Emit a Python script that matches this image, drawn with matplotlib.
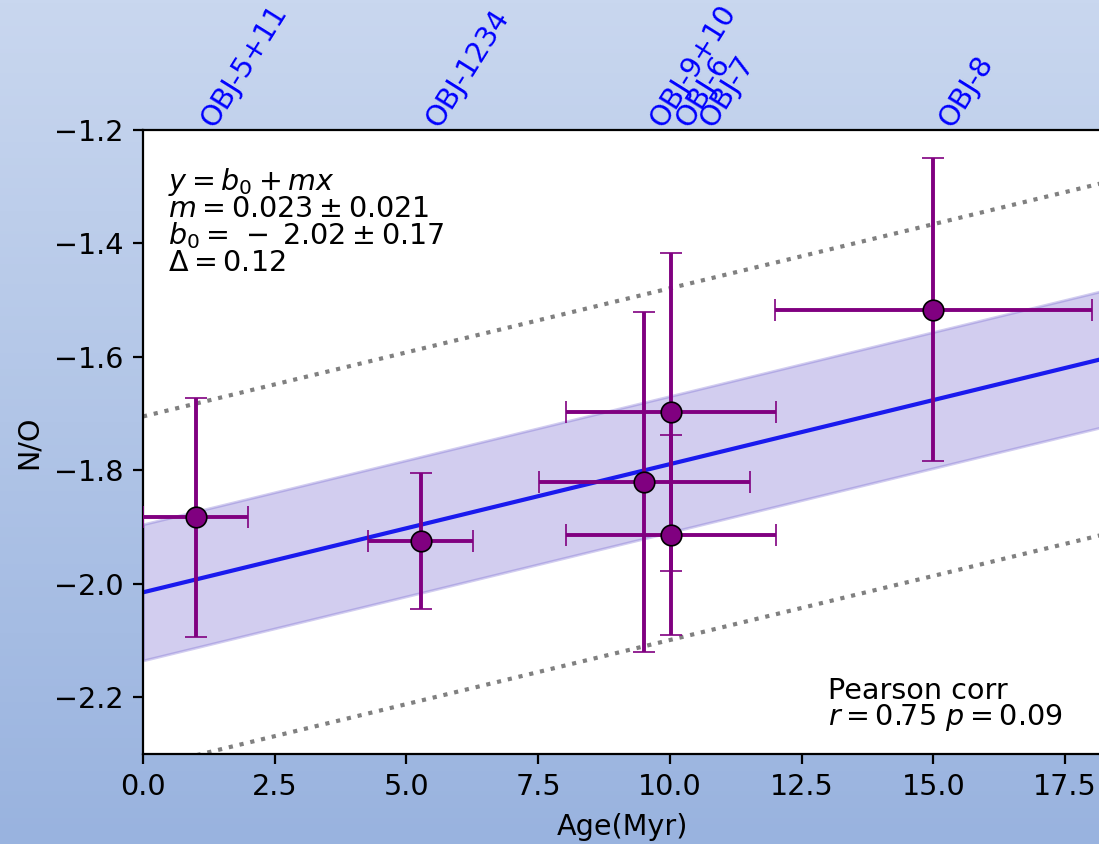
import numpy as np
import matplotlib.pyplot as plt
from matplotlib.transforms import blended_transform_factory, offset_copy

# data
names = ['OBJ-5+11', 'OBJ-1234', 'OBJ-9+10', 'OBJ-6', 'OBJ-7', 'OBJ-8']
age = [1.0, 5.27, 9.51, 10.02, 10.02, 15.0]
age_err = [1.0, 1.0, 2.0, 2.0, 2.0, 3.0]
n_o = [-1.883, -1.925, -1.820, -1.697, -1.914, -1.517]
n_o_err = [0.21, 0.12, 0.30, 0.28, 0.176, 0.267]
label_x = [1.0, 5.27, 9.51, 10.02, 10.47, 15.0]

# fit parameters
b0 = -2.015
m = 0.0226
delta = 0.12
scatter_lim = 0.31

plt.rcParams['font.size'] = 10.3

fig = plt.figure(figsize=(1099 / 200, 844 / 200), dpi=200)

# gradient background
bg = fig.add_axes([0, 0, 1, 1], zorder=-10)
grad = np.linspace(0, 1, 256).reshape(-1, 1)
top = np.array([201, 215, 239]) / 255
bottom = np.array([153, 179, 223]) / 255
img = top + (bottom - top) * grad[:, :, None]
bg.imshow(img, aspect='auto', extent=[0, 1, 0, 1])
bg.axis('off')

# axes runs slightly past the right edge of the picture
ax = fig.add_axes([0.1301, 0.1066, 0.8727, 0.7394])
ax.set_facecolor('white')

xx = np.linspace(0, 20, 200)
yy = b0 + m * xx
ax.fill_between(xx, yy - delta, yy + delta, color='slateblue', alpha=0.3, zorder=1)
ax.plot(xx, yy, color='#1a1aee', lw=1.5, zorder=2)
ax.plot(xx, yy + scatter_lim, color='gray', ls=':', lw=1.5, zorder=2)
ax.plot(xx, yy - scatter_lim, color='gray', ls=':', lw=1.5, zorder=2)

ax.errorbar(age, n_o, xerr=age_err, yerr=n_o_err, fmt='o', color='purple',
            ecolor='purple', elinewidth=1.4, capsize=4, capthick=0.6,
            markersize=7.4, markeredgecolor='black', markeredgewidth=0.6, zorder=3)

ax.set_xlim(0, 18.2)
ax.set_ylim(-2.3, -1.2)
ax.set_xticks([0, 2.5, 5, 7.5, 10, 12.5, 15, 17.5])
ax.set_yticks([-2.2, -2.0, -1.8, -1.6, -1.4, -1.2])
ax.set_xlabel('Age(Myr)')
ax.set_ylabel('N/O')

ax.text(0.48, -1.263, '$y = b_0 + mx$\n$m = 0.023 \\pm 0.021$\n'
        '$b_0 =\\,-\\;2.02 \\pm 0.17$\n$\\Delta = 0.12$',
        va='top', ha='left', linespacing=0.89)
ax.text(13.0, -2.165, 'Pearson corr\n$r = 0.75$ $p = 0.09$',
        va='top', ha='left', linespacing=0.85)

trans = blended_transform_factory(ax.transData, ax.transAxes)
trans = offset_copy(trans, fig=fig, x=0, y=-2, units='dots')
for name, x in zip(names, label_x):
    ax.text(x, 1.0, name, transform=trans, rotation=58, color='blue',
            ha='left', va='bottom')

fig.savefig('out.png', dpi=200)
